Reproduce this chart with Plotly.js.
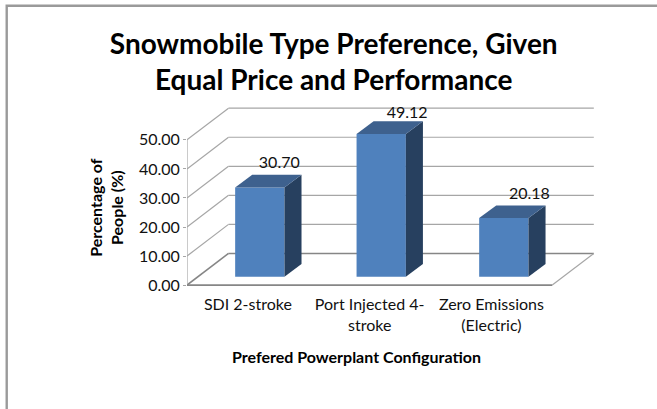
<!DOCTYPE html>
<html><head><meta charset="utf-8">
<script src="https://cdn.plot.ly/plotly-3.0.1.min.js"></script>
<style>html,body{margin:0;padding:0;background:#fff}#c{width:657px;height:409px}</style></head>
<body><div id="c"></div>
<script>
const categories = ["SDI 2-stroke", "Port Injected 4-<br>stroke", "Zero Emissions<br>(Electric)"];
const values = [30.70, 49.12, 20.18];
const yTicks = [0, 10, 20, 30, 40, 50];
const centers = [0, 1, 2];
const barCenters = [0.098, 1.095, 2.102];
const labelDx = [0.16, 0.213, 0.21];
const labelDy = [8.2, 6.9, 7.9];

const wallDx = 0.341, wallDy = 10.9;
const barDx = 0.14, barDy = 4.35, barW = 0.405, lift = 2.9;
const front = '#4F81BD', side = '#27405F', topC = '#3E618E';
const W = 657, H = 409, mL = 186.5, mR = 56, mT = 104.5, mB = 121;
const px = x => (x - mL) / (W - mL - mR);
const py = y => (H - mB - y) / (H - mT - mB);

const traces = [{
  type:'bar', x:barCenters, y:values, base:values.map(()=>lift), width:barW,
  marker:{color:front,line:{width:0}}, hoverinfo:'skip', showlegend:false
}];
values.forEach((v,i)=>{
  const l=barCenters[i]-barW/2, r=barCenters[i]+barW/2, t=v+lift;
  traces.push({type:'scatter',mode:'lines',fill:'toself',fillcolor:side,line:{width:0,color:side},
    x:[r,r+barDx,r+barDx,r,r],y:[lift,lift+barDy,t+barDy,t,lift],showlegend:false,hoverinfo:'skip'});
  traces.push({type:'scatter',mode:'lines',fill:'toself',fillcolor:topC,line:{width:0,color:topC},
    x:[l,r,r+barDx,l+barDx,l],y:[t,t,t+barDy,t+barDy,t],showlegend:false,hoverinfo:'skip'});
});
traces.push({type:'scatter',mode:'text',x:barCenters.map((c,i)=>c+labelDx[i]),y:values.map((v,i)=>v+lift+labelDy[i]),
  text:values.map(v=>v.toFixed(2)),textposition:'middle center',cliponaxis:false,
  textfont:{family:'Lato',size:16,color:'#111'},showlegend:false,hoverinfo:'skip'});

const shapes = [];
const xL=-0.5, xR=2.5;
yTicks.forEach(v=>{
  const col = v===0?'#868686':'#A6A6A6', w = v===0?1.6:1.2;
  shapes.push({type:'line',layer:'below',xref:'x',yref:'y',x0:xL,y0:v,x1:xL+wallDx,y1:v+wallDy,line:{color:col,width:w}});
  shapes.push({type:'line',layer:'below',xref:'x',yref:'y',x0:xL+wallDx,y0:v+wallDy,x1:xR+wallDx,y1:v+wallDy,line:{color:col,width:w}});
});
shapes.push({type:'line',layer:'below',xref:'x',yref:'y',x0:xL,y0:0,x1:xL,y1:50,line:{color:'#A6A6A6',width:1.2}});
shapes.push({type:'line',layer:'below',xref:'x',yref:'y',x0:xL,y0:0,x1:xR,y1:0,line:{color:'#868686',width:1.6}});
shapes.push({type:'line',layer:'below',xref:'x',yref:'y',x0:xR,y0:0,x1:xR+wallDx,y1:wallDy,line:{color:'#A6A6A6',width:1.2}});
// outer chart frame: only top and left edges fall inside the picture
shapes.push({type:'rect',xref:'paper',yref:'paper',layer:'below',x0:px(6),x1:px(700),y0:py(450),y1:py(5),line:{color:'#9A9A9A',width:2.4}});

const layout = {
  width:W,height:H,margin:{l:mL,r:mR,t:mT,b:mB},
  paper_bgcolor:'#fff',plot_bgcolor:'rgba(0,0,0,0)',showlegend:false,barmode:'overlay',
  title:{text:'Snowmobile Type Preference, Given<br>Equal Price and Performance',
    font:{family:'Lato',size:28,color:'#000',weight:700},x:0.508,xanchor:'center',y:0.869,yanchor:'top'},
  xaxis:{range:[-0.5,2.9],tickmode:'array',tickvals:centers,ticktext:categories,showgrid:false,zeroline:false,showline:false,
    ticks:'outside',ticklen:2,tickcolor:'rgba(0,0,0,0)',tickfont:{family:'Lato',size:16,color:'#111'}},
  yaxis:{range:[-1,62],tickmode:'array',tickvals:yTicks,ticktext:yTicks.map(v=>v.toFixed(2)),showgrid:false,zeroline:false,showline:false,
    ticks:'outside',ticklen:3,tickcolor:'#A6A6A6',tickfont:{family:'Lato',size:16,color:'#111'}},
  annotations:[
    {text:'Prefered Powerplant Configuration',xref:'paper',yref:'paper',x:px(356),y:py(357),showarrow:false,
     xanchor:'center',yanchor:'middle',font:{family:'Lato',size:16,color:'#000',weight:700}},
    {text:'Percentage of<br>People (%)',xref:'paper',yref:'paper',x:px(106),y:py(207),showarrow:false,textangle:-90,
     xanchor:'center',yanchor:'middle',font:{family:'Lato',size:16,color:'#000',weight:700}}
  ],
  shapes
};
Plotly.newPlot('c',traces,layout,{displayModeBar:false,staticPlot:true});
</script></body></html>
